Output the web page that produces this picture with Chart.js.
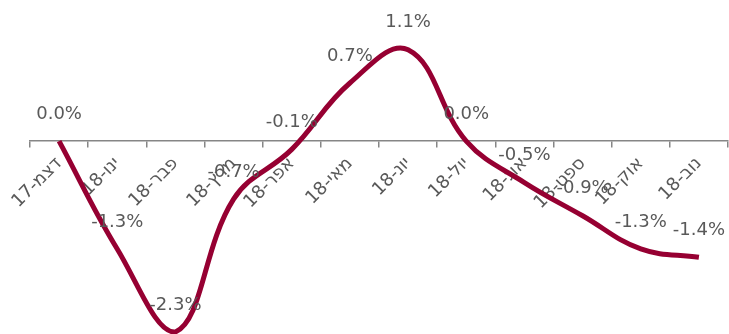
<!DOCTYPE html>
<html>
<head>
<meta charset="utf-8">
<script src="https://cdn.jsdelivr.net/npm/chart.js@4/dist/chart.umd.min.js"></script>
<style>
  html, body { margin: 0; padding: 0; background: #fff; }
  #wrap { width: 729px; height: 334px; position: relative; }
</style>
</head>
<body>
<div id="wrap"><canvas id="chart"></canvas></div>
<script>
// month labels (Hebrew) and monthly change in %
const months = ['דצמ-17', 'ינו-18', 'פבר-18', 'מרץ-18', 'אפר-18', 'מאי-18',
                'יונ-18', 'יול-18', 'אוג-18', 'ספט-18', 'אוק-18', 'נוב-18'];
const changes = [0.0, -1.3, -2.3, -0.7, -0.1, 0.7, 1.1, 0.0, -0.5, -0.9, -1.3, -1.4];

const lineColor = '#960032';
const textColor = '#595959';

// simple value labels above each point
const valueLabels = {
    id: 'valueLabels',
    afterDatasetsDraw(chart) {
        const ctx = chart.ctx;
        const meta = chart.getDatasetMeta(0);
        ctx.save();
        ctx.font = '18px "DejaVu Sans"';
        ctx.fillStyle = textColor;
        ctx.textAlign = 'center';
        ctx.textBaseline = 'middle';
        meta.data.forEach((pt, i) => {
            ctx.fillText(changes[i].toFixed(1) + '%', pt.x, pt.y - 27);
        });
        ctx.restore();
    }
};

new Chart(document.getElementById('chart'), {
    type: 'line',
    data: {
        labels: months,
        datasets: [{
            data: changes,
            borderColor: lineColor,
            borderWidth: 5,
            tension: 0.4,
            pointRadius: 0,
            fill: false,
            clip: false
        }]
    },
    options: {
        responsive: true,
        maintainAspectRatio: false,
        animation: false,
        layout: { padding: { left: 30, right: 1, top: 0, bottom: 0 } },
        plugins: { legend: { display: false }, tooltip: { enabled: false } },
        scales: {
            x: {
                position: { y: 0 },
                offset: true,
                grid: {
                    offset: true,
                    drawOnChartArea: false,
                    drawTicks: true,
                    tickLength: 6,
                    color: '#868686',
                    lineWidth: 1.5
                },
                border: { color: '#868686', width: 1.5 },
                ticks: {
                    color: textColor,
                    font: { family: '"DejaVu Sans"', size: 18 },
                    minRotation: 45,
                    maxRotation: 45,
                    autoSkip: false,
                    padding: 6
                }
            },
            y: {
                display: false,
                min: -2.325,
                max: 1.7
            }
        }
    },
    plugins: [valueLabels]
});
</script>
</body>
</html>
